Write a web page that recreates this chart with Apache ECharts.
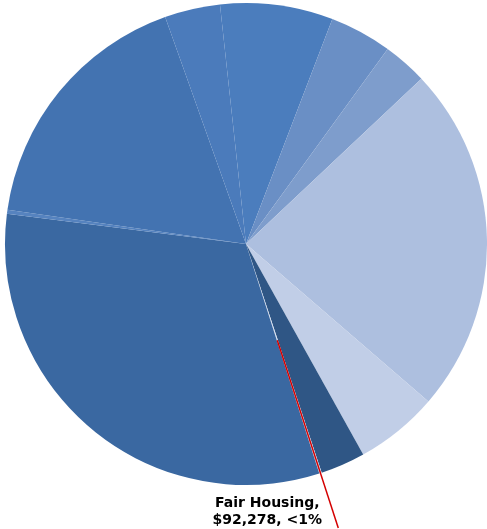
<!DOCTYPE html>
<html>
<head>
<meta charset="utf-8">
<style>
  html, body { margin: 0; padding: 0; background: #ffffff; }
  #chart { width: 487px; height: 529px; }
</style>
<script src="https://cdn.jsdelivr.net/npm/echarts@6/dist/echarts.min.js"></script>
</head>
<body>
<div id="chart"></div>
<script>
// Funding by program (dollars), listed clockwise from the top of the pie
const programs = [
  'Homeless Assistance',
  'Housing for the Elderly',
  'Housing for Persons with Disabilities',
  'Public Housing Capital',
  'Native American Housing',
  'Lead Hazard Control',
  'Fair Housing',
  'Housing Choice Vouchers',
  'Housing Counseling',
  'Community Development Block Grant',
  'HOME Investment Partnerships'
];
const amounts = [
  4183000, 2307000, 1646000, 12934000, 3091000, 1661000,
  92278, 17671000, 154000, 9566000, 2061000
];
const sliceColors = [
  '#4b7dbd', '#6a8fc5', '#7e9dcc', '#adbfdf', '#c1cee7', '#2f5685',
  '#d6dff0', '#3a68a1', '#5683bf', '#4373b1', '#4b7bbb'
];
const labelledProgram = 'Fair Housing';

const chart = echarts.init(document.getElementById('chart'), null, { renderer: 'canvas' });

const CX = 246, CY = 244, R = 241;

function money(v) {
  return '$' + v.toLocaleString('en-US');
}

const common = {
  type: 'pie',
  center: [CX, CY],
  radius: [0, R],
  startAngle: 96.2,
  clockwise: true,
  avoidLabelOverlap: false
};

// Filled slices
const sliceData = programs.map((name, i) => ({
  name: name,
  value: amounts[i],
  itemStyle: { color: sliceColors[i] }
}));

// Same slices again, invisible, carrying the callout so it sits above the fill
const calloutData = programs.map((name, i) => {
  const show = name === labelledProgram;
  return {
    name: name,
    value: amounts[i],
    itemStyle: { color: 'rgba(0,0,0,0)' },
    label: { show: show },
    labelLine: { show: show }
  };
});

chart.setOption({
  animation: false,
  backgroundColor: '#ffffff',
  series: [
    Object.assign({}, common, {
      z: 2,
      silent: true,
      label: { show: false },
      labelLine: { show: false },
      itemStyle: { borderWidth: 0 },
      data: sliceData
    }),
    Object.assign({}, common, {
      z: 5,
      silent: true,
      itemStyle: { borderWidth: 0 },
      label: {
        position: 'outside',
        color: '#000000',
        fontFamily: 'DejaVu Sans',
        fontWeight: 'bold',
        fontSize: 14,
        lineHeight: 17,
        align: 'center',
        formatter: (p) => {
          const pct = p.percent < 1 ? '<1%' : Math.round(p.percent) + '%';
          return p.name + ',\n' + money(p.value) + ', ' + pct;
        }
      },
      labelLine: {
        lineStyle: { color: '#d40000', width: 1.5 },
        smooth: false
      },
      // Leader line runs along the slice's radius, from inside the pie
      // down to the bottom edge; the label sits just left of its end.
      labelLayout: (params) => {
        const pts = params.labelLinePoints;
        if (!pts) return {};
        const p0 = pts[0];
        const dx = p0[0] - CX, dy = p0[1] - CY;
        const len = Math.sqrt(dx * dx + dy * dy);
        const ux = dx / len, uy = dy / len;
        const start = [CX + ux * R * 0.42, CY + uy * R * 0.42];
        const endY = chart.getHeight() - 1;
        const t = (endY - CY) / uy;
        const end = [CX + ux * t, endY];
        const mid = [(start[0] + end[0]) / 2, (start[1] + end[1]) / 2];
        return {
          x: end[0] - 71,
          y: endY - 16,
          align: 'center',
          verticalAlign: 'middle',
          labelLinePoints: [start, mid, end]
        };
      },
      data: calloutData
    })
  ]
});
</script>
</body>
</html>
